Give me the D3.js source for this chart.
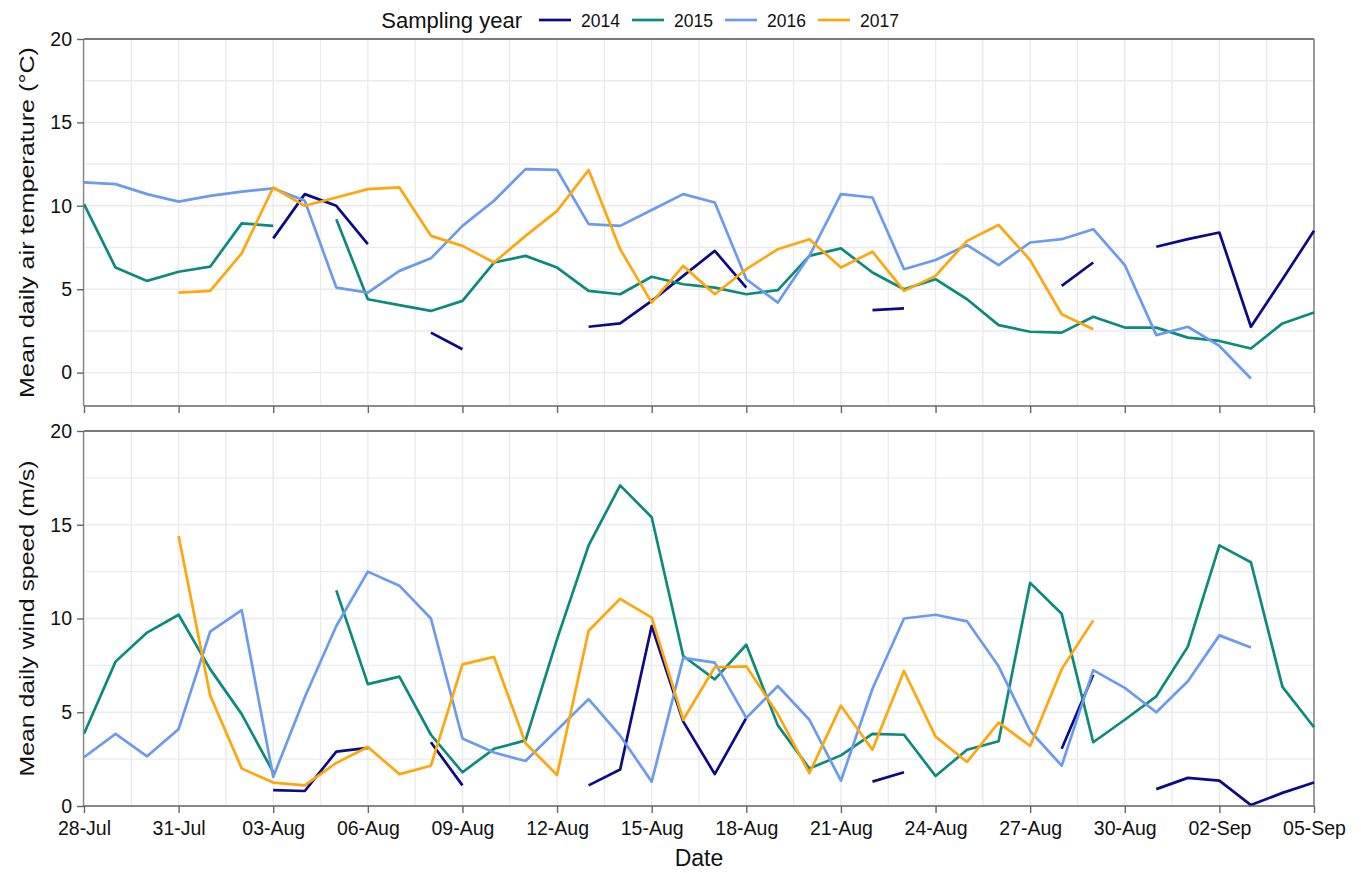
<!DOCTYPE html>
<html>
<head>
<meta charset="utf-8">
<script src="https://cdn.jsdelivr.net/npm/d3@7"></script>
<style>
  body { margin: 0; background: #fff; }
  text { font-family: "Liberation Sans", Arial, sans-serif; fill: #111; }
</style>
</head>
<body>
<div id="chart"></div>
<script>
// sampling years and their colours
var years = ["2014", "2015", "2016", "2017"];
var colors = ["#0a0a8a", "#0b8a7e", "#6a9bf0", "#ffa60d"];

// mean daily air temperature, 28-Jul .. 05-Sep (null = no data)
var temp2014 = [null, null, null, null, null, null, 8.05, 10.7, 10.0, 7.7, null, 2.4, 1.4, null, null, null,
  2.75, 2.95, 4.3, 5.8, 7.3, 5.1, null, null, null, 3.75, 3.85, null, null, null, null, 5.2, 6.6, null,
  7.55, 8.0, 8.4, 2.75, 5.6, 8.5];
var temp2015 = [10.1, 6.3, 5.5, 6.05, 6.35, 8.95, 8.8, null, 9.2, 4.4, 4.05, 3.7, 4.3, 6.6, 7.0, 6.3,
  4.9, 4.7, 5.75, 5.3, 5.1, 4.7, 4.95, 7.0, 7.45, 6.0, 5.0, 5.6, 4.4, 2.85, 2.45, 2.4, 3.35, 2.7,
  2.7, 2.1, 1.9, 1.45, 2.95, 3.6];
var temp2016 = [11.4, 11.3, 10.7, 10.25, 10.6, 10.85, 11.05, 10.3, 5.1, 4.8, 6.1, 6.85, 8.8, 10.3, 12.2,
  12.15, 8.9, 8.8, 9.75, 10.7, 10.2, 5.6, 4.2, 7.0, 10.7, 10.5, 6.2, 6.75, 7.65, 6.45, 7.8, 8.0, 8.6,
  6.45, 2.25, 2.75, 1.6, -0.35, null, null];
var temp2017 = [null, null, null, 4.8, 4.9, 7.15, 11.1, 10.0, 10.5, 11.0, 11.1, 8.2, 7.6, 6.6, 8.2, 9.7,
  12.15, 7.4, 4.2, 6.4, 4.7, 6.2, 7.4, 8.0, 6.3, 7.25, 4.9, 5.8, 7.9, 8.85, 6.75, 3.5, 2.6,
  null, null, null, null, null, null, null];

// mean daily wind speed
var wind2014 = [null, null, null, null, null, null, 0.85, 0.8, 2.9, 3.1, null, 3.4, 1.1, null, null, null,
  1.1, 1.95, 9.6, 4.5, 1.7, 4.7, null, null, null, 1.3, 1.8, null, null, null, null, 3.05, 7.0, null,
  0.9, 1.5, 1.35, 0.05, 0.7, 1.25];
var wind2015 = [3.85, 7.7, 9.25, 10.2, 7.3, 4.9, 1.8, null, 11.5, 6.5, 6.9, 3.8, 1.8, 3.05, 3.5, 8.9,
  13.9, 17.1, 15.4, 8.0, 6.75, 8.6, 4.3, 2.0, 2.7, 3.85, 3.8, 1.6, 3.0, 3.45, 11.9, 10.25, 3.4, 4.6,
  5.85, 8.5, 13.9, 13.0, 6.35, 4.2];
var wind2016 = [2.6, 3.85, 2.65, 4.1, 9.3, 10.45, 1.55, 5.8, 9.6, 12.5, 11.75, 10.0, 3.6, 2.85, 2.4, 4.05,
  5.7, 3.75, 1.3, 7.9, 7.65, 4.7, 6.4, 4.6, 1.35, 6.25, 10.0, 10.2, 9.85, 7.45, 4.0, 2.15, 7.25, 6.3,
  5.0, 6.65, 9.1, 8.45, null, null];
var wind2017 = [null, null, null, 14.4, 5.9, 2.0, 1.25, 1.1, 2.3, 3.15, 1.7, 2.15, 7.55, 7.95, 3.35, 1.65,
  9.35, 11.05, 10.05, 4.6, 7.4, 7.45, 4.9, 1.75, 5.35, 3.0, 7.2, 3.7, 2.35, 4.45, 3.2, 7.3, 9.9,
  null, null, null, null, null, null, null];

var yTicks = [0, 5, 10, 15, 20];

var startDate = new Date(2014, 6, 28),
    endDate = new Date(2014, 8, 5);
var dates = d3.timeDay.range(startDate, d3.timeDay.offset(endDate, 1));

var width = 1361, height = 873;
var left = 84, right = 1314;

var svg = d3.select("#chart").append("svg")
    .attr("width", width)
    .attr("height", height);

var x = d3.scaleTime()
    .domain([startDate, endDate])
    .range([left, right]);

// tick every 3 days, grid every 1.5 days
var xTickDates = dates.filter(function(d, i) { return i % 3 === 0; });
var xGridDates = [];
for (var i = 0; i <= 26; i++) {
  xGridDates.push(new Date(startDate.getTime() + i * 1.5 * 864e5));
}

var panels = [
  {top: 39, bottom: 406, domain: [-2, 20], series: [temp2014, temp2015, temp2016, temp2017],
   title: "Mean daily air temperature (°C)", titleLen: 351, labels: false},
  {top: 431, bottom: 806, domain: [0, 20], series: [wind2014, wind2015, wind2016, wind2017],
   title: "Mean daily wind speed (m/s)", titleLen: 316, labels: true}
];

panels.forEach(function(p) {
  var y = d3.scaleLinear().domain(p.domain).range([p.bottom, p.top]);
  var g = svg.append("g");

  // grid
  var hGrid = d3.range(0, 20.01, 2.5);
  g.selectAll(".hgrid").data(hGrid).enter().append("line")
      .attr("x1", left).attr("x2", right)
      .attr("y1", function(d) { return y(d); })
      .attr("y2", function(d) { return y(d); })
      .attr("stroke", "#ebebeb").attr("stroke-width", 1.4);
  g.selectAll(".vgrid").data(xGridDates).enter().append("line")
      .attr("y1", p.top).attr("y2", p.bottom)
      .attr("x1", function(d) { return x(d); })
      .attr("x2", function(d) { return x(d); })
      .attr("stroke", "#ebebeb").attr("stroke-width", 1.4);

  // frame (top + right)
  g.append("line").attr("x1", left).attr("x2", right).attr("y1", p.top).attr("y2", p.top)
      .attr("stroke", "#555").attr("stroke-width", 1.4);
  g.append("line").attr("x1", right).attr("x2", right).attr("y1", p.top).attr("y2", p.bottom)
      .attr("stroke", "#777").attr("stroke-width", 1.4);

  // lines
  var line = d3.line()
      .defined(function(d) { return d != null; })
      .x(function(d, i) { return x(dates[i]); })
      .y(function(d) { return y(d); });

  p.series.forEach(function(s, k) {
    g.append("path")
        .datum(s)
        .attr("fill", "none")
        .attr("stroke", colors[k])
        .attr("stroke-width", 2.7)
        .attr("stroke-linejoin", "round")
        .attr("d", line);
  });

  // axes
  var yAxis = d3.axisLeft(y).tickValues(yTicks).tickSize(7).tickPadding(5);
  var ga = g.append("g").attr("transform", "translate(" + left + ",0)").call(yAxis);
  ga.select(".domain").attr("stroke", "#888").attr("stroke-width", 1.4)
      .attr("d", "M-0.5," + p.bottom + "V" + p.top);
  ga.selectAll(".tick line").attr("stroke", "#666").attr("stroke-width", 1.4);
  ga.selectAll("text").style("font-size", "19.5px").attr("fill", "#111")
      .style("font-family", "'Liberation Sans', Arial, sans-serif");

  var xAxis = d3.axisBottom(x).tickValues(xTickDates).tickSize(7).tickPadding(8)
      .tickFormat(p.labels ? d3.timeFormat("%d-%b") : "");
  var gx = g.append("g").attr("transform", "translate(0," + p.bottom + ")").call(xAxis);
  gx.select(".domain").attr("stroke", "#666").attr("stroke-width", 1.4)
      .attr("d", "M" + left + ",0H" + right);
  gx.selectAll(".tick line").attr("stroke", "#666").attr("stroke-width", 1.4);
  gx.selectAll("text").style("font-size", "19.5px").attr("fill", "#111")
      .style("font-family", "'Liberation Sans', Arial, sans-serif");

  // y title (stretched along its length like the original)
  svg.append("text")
      .attr("transform", "translate(34," + ((p.top + p.bottom) / 2) + ") rotate(-90)")
      .attr("text-anchor", "middle")
      .attr("textLength", p.titleLen)
      .attr("lengthAdjust", "spacingAndGlyphs")
      .style("font-size", "20px")
      .text(p.title);
});

// x title
svg.append("text")
    .attr("x", (left + right) / 2)
    .attr("y", 866)
    .attr("text-anchor", "middle")
    .style("font-size", "23px")
    .text("Date");

// legend
var legend = svg.append("g");
legend.append("text")
    .attr("x", 522).attr("y", 28)
    .attr("text-anchor", "end")
    .style("font-size", "22px")
    .text("Sampling year");

var legendX = [539, 632, 725, 818];
years.forEach(function(yr, k) {
  legend.append("line")
      .attr("x1", legendX[k]).attr("x2", legendX[k] + 32)
      .attr("y1", 20).attr("y2", 20)
      .attr("stroke", colors[k]).attr("stroke-width", 2.7);
  legend.append("text")
      .attr("x", legendX[k] + 42).attr("y", 26.5)
      .style("font-size", "17.5px")
      .text(yr);
});
</script>
</body>
</html>
